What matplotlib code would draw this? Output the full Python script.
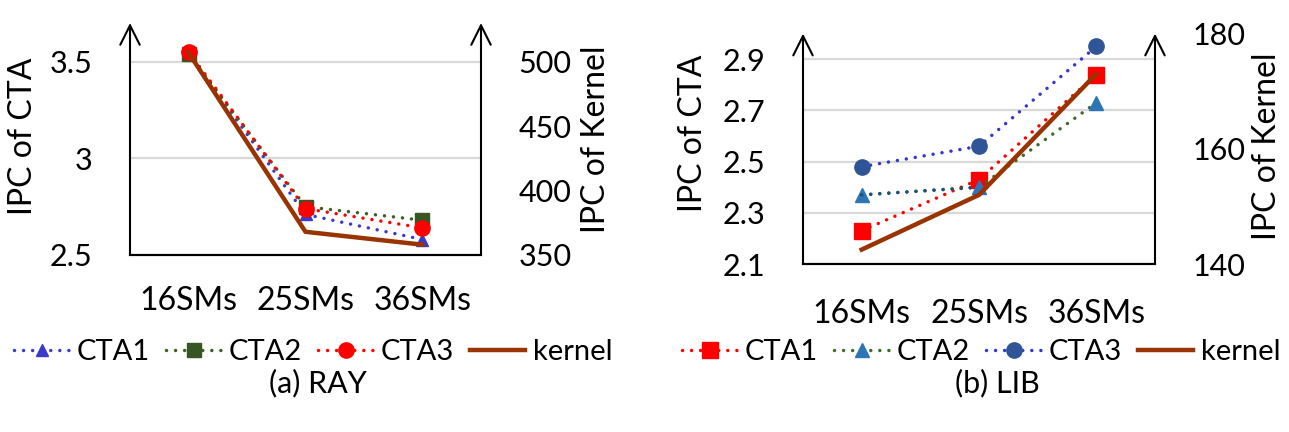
import matplotlib
matplotlib.use("Agg")
import matplotlib.pyplot as plt

plt.rcParams["font.family"] = ["Lato", "DejaVu Sans"]
plt.rcParams["ytick.major.pad"] = 27
plt.rcParams["xtick.major.pad"] = 22

categorias = ["16SMs", "25SMs", "36SMs"]

# (a) RAY
ray_cta1 = [3.54, 2.71, 2.58]
ray_cta2 = [3.54, 2.75, 2.68]
ray_cta3 = [3.55, 2.74, 2.64]
ray_kernel = [507, 368, 358]

# (b) LIB
lib_cta1 = [2.23, 2.43, 2.84]
lib_cta2 = [2.37, 2.40, 2.73]
lib_cta3 = [2.48, 2.56, 2.95]
lib_kernel = [142.5, 152, 173]

GRID = "#d9d9d9"
BROWN = "#993300"
TICK_FS = 22
XTICK_FS = 23
LABEL_FS = 23
LEG_FS = 21
TITLE_FS = 22
PONTILHADO = (0, (0.01, 2.6))  # pontos redondos


def eixos_base(ax, ax2, ylim, yticks, ylim2, yticks2):
    x = range(len(categorias))
    ax.set_xlim(-0.5, len(categorias) - 0.5)
    ax.set_ylim(*ylim)
    ax.set_yticks(yticks)
    ax.set_yticklabels([f"{v:g}" for v in yticks])
    ax2.set_ylim(*ylim2)
    ax2.set_yticks(yticks2)
    ax2.set_yticklabels([f"{v:g}" for v in yticks2])
    ax.set_xticks(list(x))
    ax.set_xticklabels(categorias, fontsize=XTICK_FS)
    ax.yaxis.grid(True, color=GRID, linewidth=1.6)
    ax.set_axisbelow(True)
    for a in (ax, ax2):
        for s in ("top", "left", "right"):
            a.spines[s].set_visible(False)
        a.spines["bottom"].set_linewidth(1.5)
        a.tick_params(axis="y", length=0, labelsize=TICK_FS)
        a.tick_params(axis="x", length=0)
    # eixos verticais com seta
    for xs in (0, 1):
        ax.annotate("", xy=(xs, 1.0), xytext=(xs, 0), xycoords="axes fraction",
                    arrowprops=dict(arrowstyle="->,head_width=0.35,head_length=0.7",
                                    lw=1.5, color="black", mutation_scale=20,
                                    shrinkA=0, shrinkB=0))


def legenda(fig, handles, cx, cy):
    fig.legend(handles, ["CTA1", "CTA2", "CTA3", "kernel"], ncol=4,
               loc="center", bbox_to_anchor=(cx / 1289, 1 - cy / 432),
               frameon=False, fontsize=LEG_FS, handlelength=1.9, handletextpad=0.25,
               columnspacing=0.55, borderpad=0)


def linha(ax, x, y, cor, marcador, ms, cor_marcador):
    h, = ax.plot(x, y, ls=PONTILHADO, lw=2.5, color=cor, marker=marcador, ms=ms,
                 markerfacecolor=cor_marcador, markeredgecolor=cor_marcador,
                 dash_capstyle="round")
    return h


fig = plt.figure(figsize=(12.89, 4.32), dpi=100)
x = list(range(len(categorias)))

# ---------------- (a) RAY ----------------
ax = fig.add_axes([130 / 1289, 1 - 255 / 432, 351 / 1289, 232 / 432])
ax2 = ax.twinx()
h1 = linha(ax, x, ray_cta1, "#3a3acc", "^", 9, "#3a3acc")
h2 = linha(ax, x, ray_cta2, "#3a5f24", "s", 10, "#375623")
h3 = linha(ax, x, ray_cta3, "#ff0000", "o", 11, "#ff0000")
h4, = ax2.plot(x, ray_kernel, ls="-", lw=3.2, color=BROWN)
eixos_base(ax, ax2, (2.5, 3.7), [2.5, 3, 3.5], (350, 530), [350, 400, 450, 500])
ax.set_ylabel("IPC of CTA", fontsize=LABEL_FS)
ax.yaxis.set_label_coords(-0.262, 0.51)
ax2.set_ylabel("IPC of Kernel", fontsize=LABEL_FS)
ax2.yaxis.set_label_coords(1.285, 0.5)
legenda(fig, [h1, h2, h3, h4], 313, 352)
fig.text(318 / 1289, 1 - 383 / 432, "(a) RAY", ha="center", va="center", fontsize=TITLE_FS)

# ---------------- (b) LIB ----------------
bx = fig.add_axes([803 / 1289, 1 - 264 / 432, 352 / 1289, 230.4 / 432])
bx2 = bx.twinx()
g1 = linha(bx, x, lib_cta1, "#ff0000", "s", 11, "#ff0000")
g2 = linha(bx, x, lib_cta2, "#3d6b2a", "^", 10, "#2e75b6")
# primeiro trecho do CTA2 aparece em azul escuro no original
bx.plot(x[:2], lib_cta2[:2], ls=PONTILHADO, lw=2.5, color="#1f4e79", dash_capstyle="round")
g3 = linha(bx, x, lib_cta3, "#3535d0", "o", 11, "#2f5597")
g4, = bx2.plot(x, lib_kernel, ls="-", lw=3.2, color=BROWN)
eixos_base(bx, bx2, (2.1, 3.0), [2.1, 2.3, 2.5, 2.7, 2.9], (140, 180), [140, 160, 180])
bx.tick_params(axis="x", pad=25)
bx.set_ylabel("IPC of CTA", fontsize=LABEL_FS)
bx.yaxis.set_label_coords(-0.27, 0.569)
bx2.set_ylabel("IPC of Kernel", fontsize=LABEL_FS)
bx2.yaxis.set_label_coords(1.275, 0.512)
legenda(fig, [g1, g2, g3, g4], 981, 352)
fig.text(997 / 1289, 1 - 383 / 432, "(b) LIB", ha="center", va="center", fontsize=TITLE_FS)

fig.savefig("out.png", dpi=100)
